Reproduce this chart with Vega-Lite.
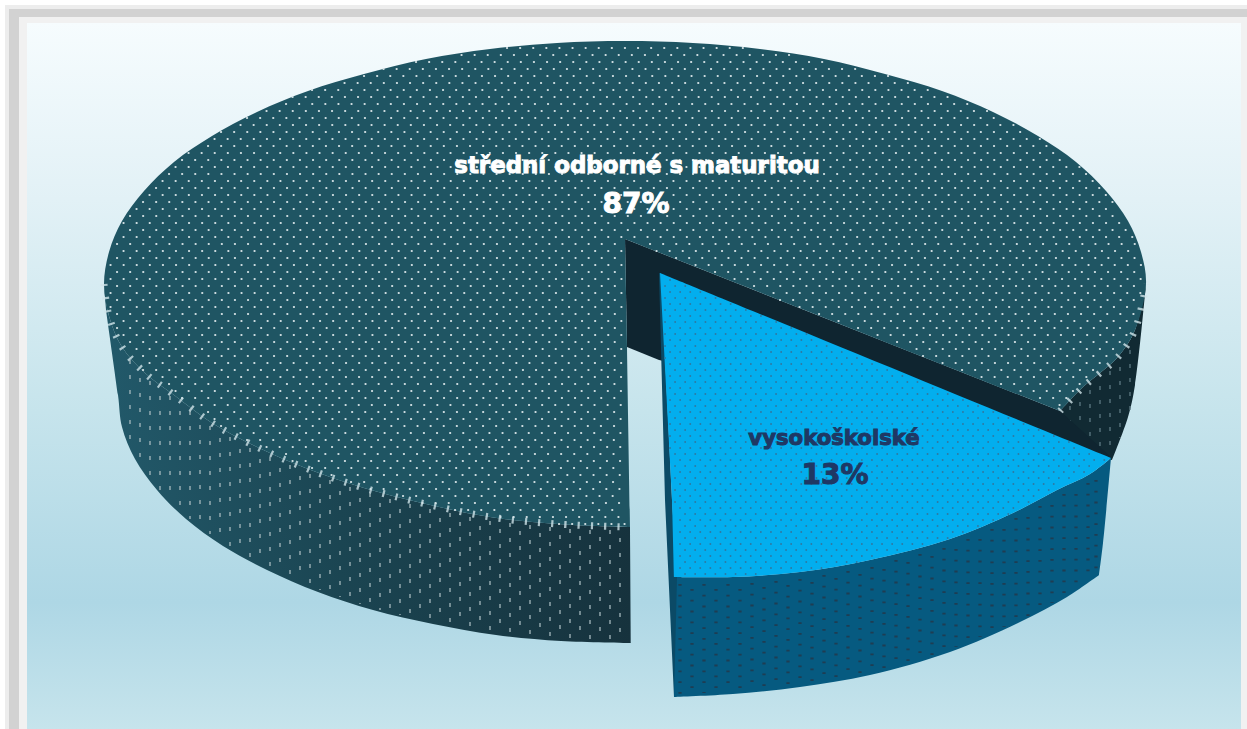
{"$schema":"https://vega.github.io/schema/vega-lite/v6.json","width":1247,"height":729,"autosize":{"type":"fit","contains":"padding"},"padding":0,"background":"#ffffff","config":{"view":{"stroke":null}},
"datasets":{
"frame":[{"tone":"a","x":5,"x2":1247,"y":5,"y2":729},{"tone":"b","x":9,"x2":1247,"y":9,"y2":729},{"tone":"c","x":19,"x2":1247,"y":17,"y2":729}],
"panel":[{"x":27,"x2":1241,"y":23,"y2":729}],
"outline":[
{"p":"wallL","s":1,"x":104,"y":284},{"p":"wallL","s":2,"x":109,"y":316},{"p":"wallL","s":3,"x":122,"y":347},{"p":"wallL","s":4,"x":145,"y":373},{"p":"wallL","s":5,"x":174,"y":395},{"p":"wallL","s":6,"x":212,"y":423},{"p":"wallL","s":7,"x":257,"y":447},{"p":"wallL","s":8,"x":308,"y":469},{"p":"wallL","s":9,"x":364,"y":488},{"p":"wallL","s":10,"x":426,"y":504},{"p":"wallL","s":11,"x":490,"y":517},{"p":"wallL","s":12,"x":557,"y":524},{"p":"wallL","s":13,"x":630,"y":527},{"p":"wallL","s":13,"x":630,"y":527},{"p":"wallL","s":14,"x":631,"y":643},{"p":"wallL","s":14,"x":631,"y":643},{"p":"wallL","s":15,"x":561,"y":641},{"p":"wallL","s":16,"x":496,"y":635},{"p":"wallL","s":17,"x":433,"y":624},{"p":"wallL","s":18,"x":373,"y":610},{"p":"wallL","s":19,"x":318,"y":592},{"p":"wallL","s":20,"x":267,"y":570},{"p":"wallL","s":21,"x":223,"y":546},{"p":"wallL","s":22,"x":186,"y":519},{"p":"wallL","s":23,"x":157,"y":490},{"p":"wallL","s":24,"x":135,"y":459},{"p":"wallL","s":25,"x":122,"y":427},{"p":"wallL","s":26,"x":118,"y":395},{"p":"wallL","s":27,"x":106,"y":310},
{"p":"wallR","s":1,"x":1060,"y":411},{"p":"wallR","s":2,"x":1083,"y":387},{"p":"wallR","s":3,"x":1100,"y":373},{"p":"wallR","s":4,"x":1118,"y":357},{"p":"wallR","s":5,"x":1135,"y":330},{"p":"wallR","s":6,"x":1146,"y":284},{"p":"wallR","s":6,"x":1146,"y":284},{"p":"wallR","s":7,"x":1135,"y":385},{"p":"wallR","s":8,"x":1128,"y":417},{"p":"wallR","s":9,"x":1112,"y":460},{"p":"wallR","s":9,"x":1112,"y":460},{"p":"wallR","s":10,"x":1060,"y":440},
{"p":"inner","s":1,"x":625,"y":239},{"p":"inner","s":2,"x":1060,"y":411},{"p":"inner","s":3,"x":1112,"y":458},{"p":"inner","s":4,"x":659,"y":360},{"p":"inner","s":5,"x":627,"y":347},
{"p":"top","s":1,"x":625,"y":239},{"p":"top","s":1,"x":625,"y":239},{"p":"top","s":2,"x":1060,"y":411},{"p":"top","s":2,"x":1060,"y":411},{"p":"top","s":3,"x":1083,"y":387},{"p":"top","s":4,"x":1100,"y":373},{"p":"top","s":5,"x":1118,"y":357},{"p":"top","s":6,"x":1135,"y":330},{"p":"top","s":7,"x":1146,"y":284},{"p":"top","s":8,"x":1141,"y":252},{"p":"top","s":9,"x":1128,"y":221},{"p":"top","s":10,"x":1106,"y":191},{"p":"top","s":11,"x":1076,"y":162},{"p":"top","s":12,"x":1038,"y":136},{"p":"top","s":13,"x":993,"y":112},{"p":"top","s":14,"x":942,"y":91},{"p":"top","s":15,"x":885,"y":74},{"p":"top","s":16,"x":824,"y":59},{"p":"top","s":17,"x":760,"y":49},{"p":"top","s":18,"x":693,"y":43},{"p":"top","s":19,"x":625,"y":41},{"p":"top","s":20,"x":557,"y":43},{"p":"top","s":21,"x":490,"y":49},{"p":"top","s":22,"x":426,"y":59},{"p":"top","s":23,"x":364,"y":74},{"p":"top","s":24,"x":308,"y":91},{"p":"top","s":25,"x":257,"y":112},{"p":"top","s":26,"x":212,"y":136},{"p":"top","s":27,"x":174,"y":162},{"p":"top","s":28,"x":144,"y":191},{"p":"top","s":29,"x":122,"y":221},{"p":"top","s":30,"x":109,"y":252},{"p":"top","s":31,"x":104,"y":284},{"p":"top","s":32,"x":109,"y":316},{"p":"top","s":33,"x":122,"y":347},{"p":"top","s":34,"x":145,"y":373},{"p":"top","s":35,"x":174,"y":395},{"p":"top","s":36,"x":212,"y":423},{"p":"top","s":37,"x":257,"y":447},{"p":"top","s":38,"x":308,"y":469},{"p":"top","s":39,"x":364,"y":488},{"p":"top","s":40,"x":426,"y":504},{"p":"top","s":41,"x":490,"y":517},{"p":"top","s":42,"x":557,"y":524},{"p":"top","s":43,"x":630,"y":527},{"p":"top","s":43,"x":630,"y":527},{"p":"top","s":44,"x":627,"y":347},
{"p":"blueWall","s":1,"x":674,"y":577},{"p":"blueWall","s":2,"x":733,"y":577},{"p":"blueWall","s":3,"x":800,"y":572},{"p":"blueWall","s":4,"x":870,"y":560},{"p":"blueWall","s":5,"x":950,"y":539},{"p":"blueWall","s":6,"x":1013,"y":513},{"p":"blueWall","s":7,"x":1057,"y":490},{"p":"blueWall","s":8,"x":1090,"y":474},{"p":"blueWall","s":9,"x":1111,"y":458},{"p":"blueWall","s":9,"x":1111,"y":458},{"p":"blueWall","s":10,"x":1103,"y":543},{"p":"blueWall","s":11,"x":1099,"y":575},{"p":"blueWall","s":11,"x":1099,"y":575},{"p":"blueWall","s":12,"x":1067,"y":597},{"p":"blueWall","s":13,"x":1020,"y":622},{"p":"blueWall","s":14,"x":950,"y":652},{"p":"blueWall","s":15,"x":870,"y":675},{"p":"blueWall","s":16,"x":800,"y":687},{"p":"blueWall","s":17,"x":733,"y":694},{"p":"blueWall","s":18,"x":674,"y":697},
{"p":"sliver","s":1,"x":659,"y":273},{"p":"sliver","s":2,"x":665,"y":500},{"p":"sliver","s":3,"x":674,"y":697},{"p":"sliver","s":4,"x":677,"y":578},{"p":"sliver","s":5,"x":672,"y":500},{"p":"sliver","s":6,"x":661,"y":273},
{"p":"blueTop","s":1,"x":660,"y":273},{"p":"blueTop","s":1,"x":660,"y":273},{"p":"blueTop","s":2,"x":1111,"y":458},{"p":"blueTop","s":2,"x":1111,"y":458},{"p":"blueTop","s":3,"x":1090,"y":474},{"p":"blueTop","s":4,"x":1057,"y":490},{"p":"blueTop","s":5,"x":1013,"y":513},{"p":"blueTop","s":6,"x":950,"y":539},{"p":"blueTop","s":7,"x":870,"y":560},{"p":"blueTop","s":8,"x":800,"y":572},{"p":"blueTop","s":9,"x":733,"y":577},{"p":"blueTop","s":10,"x":674,"y":577},{"p":"blueTop","s":10,"x":674,"y":577},{"p":"blueTop","s":11,"x":672,"y":500},
{"p":"rimL","s":1,"x":104,"y":284},{"p":"rimL","s":1.5,"x":109,"y":316},{"p":"rimL","s":2,"x":122,"y":347},{"p":"rimL","s":3,"x":145,"y":373},{"p":"rimL","s":4,"x":174,"y":395},{"p":"rimL","s":5,"x":212,"y":423},{"p":"rimL","s":6,"x":257,"y":447},{"p":"rimL","s":7,"x":308,"y":469},{"p":"rimL","s":8,"x":364,"y":488},{"p":"rimL","s":9,"x":426,"y":504},{"p":"rimL","s":10,"x":490,"y":517},{"p":"rimL","s":11,"x":557,"y":524},{"p":"rimL","s":12,"x":630,"y":527},
{"p":"rimR","s":1,"x":1060,"y":411},{"p":"rimR","s":2,"x":1083,"y":387},{"p":"rimR","s":3,"x":1100,"y":373},{"p":"rimR","s":4,"x":1118,"y":357},{"p":"rimR","s":5,"x":1135,"y":330},{"p":"rimR","s":6,"x":1146,"y":284}
],
"dotsTop":[
{"y":48,"x":507,"x2":747},{"y":55,"x":461.5,"x2":797},{"y":62,"x":416,"x2":834},{"y":69,"x":383.5,"x2":866},{"y":76,"x":364,"x2":892},{"y":83,"x":344.5,"x2":916},{"y":90,"x":312,"x2":937},{"y":97,"x":292.5,"x2":956},{"y":104,"x":286,"x2":973},{"y":111,"x":266.5,"x2":989},{"y":118,"x":247,"x2":1003},{"y":125,"x":240.5,"x2":1017},{"y":132,"x":221,"x2":1029},{"y":139,"x":214.5,"x2":1041},{"y":146,"x":208,"x2":1052},{"y":153,"x":188.5,"x2":1062},{"y":160,"x":182,"x2":1071},{"y":167,"x":175.5,"x2":1080},{"y":174,"x":169,"x2":1088},{"y":181,"x":162.5,"x2":1095},{"y":188,"x":156,"x2":1102},{"y":195,"x":149.5,"x2":1108},{"y":202,"x":143,"x2":1113},{"y":209,"x":136.5,"x2":1118},{"y":216,"x":130,"x2":1123},{"y":223,"x":123.5,"x2":1127},{"y":230,"x":130,"x2":1131},{"y":237,"x":123.5,"x2":1134},
{"y":244,"x":117,"x2":622},{"y":244,"x":650,"x2":1137},{"y":251,"x":123.5,"x2":622},{"y":251,"x":656.5,"x2":1139},{"y":258,"x":117,"x2":622},{"y":258,"x":676,"x2":1141},{"y":265,"x":110.5,"x2":622},{"y":265,"x":695.5,"x2":1142},{"y":272,"x":117,"x2":622},{"y":272,"x":715,"x2":1143},{"y":279,"x":110.5,"x2":622},{"y":279,"x":734.5,"x2":1144},{"y":286,"x":117,"x2":622},{"y":286,"x":754,"x2":1144},{"y":293,"x":110.5,"x2":622},{"y":293,"x":773.5,"x2":1142},{"y":300,"x":117,"x2":622},{"y":300,"x":780,"x2":1141},{"y":307,"x":110.5,"x2":622},{"y":307,"x":799.5,"x2":1139},{"y":314,"x":117,"x2":622},{"y":314,"x":819,"x2":1136},{"y":321,"x":123.5,"x2":622},{"y":321,"x":838.5,"x2":1135},{"y":328,"x":117,"x2":622},{"y":328,"x":858,"x2":1133},{"y":335,"x":123.5,"x2":622},{"y":335,"x":877.5,"x2":1130},{"y":342,"x":130,"x2":622},{"y":342,"x":897,"x2":1126},{"y":349,"x":136.5,"x2":622},{"y":349,"x":916.5,"x2":1122},{"y":356,"x":143,"x2":622},{"y":356,"x":923,"x2":1117},{"y":363,"x":149.5,"x2":622},{"y":363,"x":942.5,"x2":1108},{"y":370,"x":143,"x2":622},{"y":370,"x":962,"x2":1101},{"y":377,"x":162.5,"x2":622},{"y":377,"x":981.5,"x2":1094},{"y":384,"x":169,"x2":622},{"y":384,"x":1001,"x2":1085},{"y":391,"x":175.5,"x2":622},{"y":391,"x":1020.5,"x2":1078},{"y":398,"x":182,"x2":622},{"y":398,"x":1040,"x2":1071},{"y":405,"x":201.5,"x2":622},{"y":405,"x":1059.5,"x2":1064},
{"y":412,"x":208,"x2":622},{"y":419,"x":214.5,"x2":622},{"y":426,"x":221,"x2":622},{"y":433,"x":240.5,"x2":622},{"y":440,"x":247,"x2":622},{"y":447,"x":266.5,"x2":622},{"y":454,"x":286,"x2":622},{"y":461,"x":292.5,"x2":622},{"y":468,"x":312,"x2":622},{"y":475,"x":331.5,"x2":622},{"y":482,"x":351,"x2":622},{"y":489,"x":370.5,"x2":622},{"y":496,"x":403,"x2":622},{"y":503,"x":422.5,"x2":622},{"y":510,"x":455,"x2":622},{"y":517,"x":500.5,"x2":622},{"y":524,"x":559,"x2":626}
],
"dotsBlue":[
{"y":280,"x":670,"x2":675},{"y":286,"x":665,"x2":690},{"y":292,"x":670,"x2":704},{"y":298,"x":665,"x2":719},{"y":304,"x":670,"x2":734},{"y":310,"x":665,"x2":748},{"y":316,"x":670,"x2":763},{"y":322,"x":665,"x2":777},{"y":328,"x":670,"x2":792},{"y":334,"x":665,"x2":807},{"y":340,"x":670,"x2":821},{"y":346,"x":665,"x2":836},{"y":352,"x":670,"x2":850},{"y":358,"x":665,"x2":865},{"y":364,"x":670,"x2":880},{"y":370,"x":675,"x2":894},{"y":376,"x":670,"x2":909},{"y":382,"x":675,"x2":924},{"y":388,"x":670,"x2":938},{"y":394,"x":675,"x2":953},{"y":400,"x":670,"x2":967},{"y":406,"x":675,"x2":982},{"y":412,"x":670,"x2":997},{"y":418,"x":675,"x2":1011},{"y":424,"x":670,"x2":1026},{"y":430,"x":675,"x2":1040},{"y":436,"x":670,"x2":1055},{"y":442,"x":675,"x2":1070},{"y":448,"x":670,"x2":1084},{"y":454,"x":675,"x2":1099},{"y":460,"x":680,"x2":1105},{"y":466,"x":675,"x2":1096},{"y":472,"x":680,"x2":1088},{"y":478,"x":675,"x2":1076},{"y":484,"x":680,"x2":1063},{"y":490,"x":675,"x2":1053},{"y":496,"x":680,"x2":1041},{"y":502,"x":675,"x2":1029},{"y":508,"x":680,"x2":1018},{"y":514,"x":685,"x2":1009},{"y":520,"x":680,"x2":995},{"y":526,"x":685,"x2":979},{"y":532,"x":680,"x2":965},{"y":538,"x":685,"x2":950},{"y":544,"x":680,"x2":924},{"y":550,"x":685,"x2":905},{"y":556,"x":680,"x2":880},{"y":562,"x":685,"x2":858},{"y":568,"x":680,"x2":822},{"y":574,"x":685,"x2":765}
],
"ticksL":[
{"x":130,"y":360,"y2":444},{"x":140,"y":378,"y2":462},{"x":150,"y":381,"y2":477},{"x":160,"y":396,"y2":490},{"x":170,"y":396,"y2":500},{"x":180,"y":411,"y2":510},{"x":190,"y":411,"y2":519},{"x":200,"y":425,"y2":526},{"x":210,"y":426,"y2":534},{"x":220,"y":438,"y2":541},{"x":230,"y":437,"y2":547},{"x":240,"y":449,"y2":554},{"x":250,"y":448,"y2":559},{"x":260,"y":459,"y2":563},{"x":270,"y":457,"y2":568},{"x":280,"y":468,"y2":572},{"x":290,"y":465,"y2":576},{"x":300,"y":476,"y2":581},{"x":310,"y":474,"y2":586},{"x":320,"y":484,"y2":590},{"x":330,"y":480,"y2":594},{"x":340,"y":491,"y2":597},{"x":350,"y":487,"y2":600},{"x":360,"y":498,"y2":604},{"x":370,"y":493,"y2":606},{"x":380,"y":503,"y2":610},{"x":390,"y":499,"y2":612},{"x":400,"y":509,"y2":615},{"x":410,"y":504,"y2":617},{"x":420,"y":514,"y2":619},{"x":430,"y":509,"y2":621},{"x":440,"y":518,"y2":622},{"x":450,"y":513,"y2":624},{"x":460,"y":522,"y2":626},{"x":470,"y":517,"y2":628},{"x":480,"y":526,"y2":630},{"x":490,"y":521,"y2":631},{"x":500,"y":529,"y2":632},{"x":510,"y":523,"y2":633},{"x":520,"y":531,"y2":634},{"x":530,"y":525,"y2":635},{"x":540,"y":533,"y2":636},{"x":550,"y":527,"y2":637},{"x":560,"y":535,"y2":638},{"x":570,"y":529,"y2":638},{"x":580,"y":536,"y2":638},{"x":590,"y":530,"y2":639},{"x":600,"y":537,"y2":639},{"x":610,"y":530,"y2":639},{"x":620,"y":538,"y2":640}
],
"ticksR":[
{"x":1070,"y":406,"y2":440},{"x":1080,"y":402,"y2":444},{"x":1090,"y":390,"y2":448},{"x":1100,"y":386,"y2":452},{"x":1110,"y":371,"y2":450},{"x":1120,"y":367,"y2":438},{"x":1130,"y":336,"y2":410}
],
"ticksB":[
{"x":680,"y":584,"y2":694},{"x":692,"y":589,"y2":694},{"x":704,"y":584,"y2":693},{"x":716,"y":589,"y2":693},{"x":728,"y":584,"y2":692},{"x":740,"y":589,"y2":691},{"x":752,"y":583,"y2":690},{"x":764,"y":587,"y2":689},{"x":776,"y":581,"y2":688},{"x":788,"y":585,"y2":686},{"x":800,"y":579,"y2":685},{"x":812,"y":582,"y2":683},{"x":824,"y":575,"y2":681},{"x":836,"y":578,"y2":679},{"x":848,"y":571,"y2":677},{"x":860,"y":574,"y2":675},{"x":872,"y":567,"y2":672},{"x":884,"y":569,"y2":669},{"x":896,"y":560,"y2":666},{"x":908,"y":562,"y2":662},{"x":920,"y":554,"y2":659},{"x":932,"y":556,"y2":655},{"x":944,"y":548,"y2":652},{"x":956,"y":549,"y2":647},{"x":968,"y":539,"y2":642},{"x":980,"y":539,"y2":637},{"x":992,"y":529,"y2":632},{"x":1004,"y":529,"y2":627},{"x":1016,"y":518,"y2":622},{"x":1028,"y":517,"y2":616},{"x":1040,"y":506,"y2":610},{"x":1052,"y":505,"y2":603},{"x":1064,"y":494,"y2":597},{"x":1076,"y":494,"y2":589},{"x":1088,"y":483,"y2":580},{"x":1096,"y":480,"y2":575}
],
"labels":[
{"category":"střední odborné s maturitou","kind":"name","x":637,"y":173},
{"category":"87%","kind":"share","x":636,"y":213},
{"category":"vysokoškolské","kind":"name2","x":834,"y":445},
{"category":"13%","kind":"share2","x":835,"y":484}
]},
"encoding":{"x":{"field":"x","type":"quantitative","scale":{"domain":[0,1247],"nice":false,"zero":false},"axis":null},"y":{"field":"y","type":"quantitative","scale":{"domain":[729,0],"nice":false,"zero":false},"axis":null}},
"layer":[
{"data":{"name":"frame"},"mark":{"type":"rect"},"encoding":{"x2":{"field":"x2"},"y2":{"field":"y2"},"fill":{"field":"tone","type":"nominal","legend":null,"scale":{"domain":["a","b","c"],"range":["#ededed","#d2d2d2","#f1f1f1"]}}}},
{"data":{"name":"panel"},"mark":{"type":"rect","fill":{"gradient":"linear","x1":0,"y1":0,"x2":0,"y2":1,"stops":[{"offset":0,"color":"#f6fcfe"},{"offset":0.25,"color":"#e2f1f6"},{"offset":0.55,"color":"#c6e4ec"},{"offset":0.82,"color":"#aed7e5"},{"offset":1,"color":"#c6e4ec"}]}},"encoding":{"x2":{"field":"x2"},"y2":{"field":"y2"}}},
{"data":{"name":"outline"},"transform":[{"filter":"datum.p==='wallL'"}],"mark":{"type":"line","interpolate":"catmull-rom","strokeWidth":0,"fill":{"gradient":"linear","x1":0,"y1":0,"x2":1,"y2":0,"stops":[{"offset":0,"color":"#22596a"},{"offset":0.45,"color":"#1b4552"},{"offset":1,"color":"#16323d"}]}},"encoding":{"order":{"field":"s"}}},
{"data":{"name":"ticksL"},"mark":{"type":"rule","stroke":"#a9bcc1","strokeWidth":1.6,"strokeDash":[4,11],"opacity":0.8},"encoding":{"y2":{"field":"y2"}}},
{"data":{"name":"outline"},"transform":[{"filter":"datum.p==='wallR'"}],"mark":{"type":"line","interpolate":"catmull-rom","strokeWidth":0,"fill":"#112a33"},"encoding":{"order":{"field":"s"}}},
{"data":{"name":"ticksR"},"mark":{"type":"rule","stroke":"#5f7a84","strokeWidth":1.3,"strokeDash":[4,10]},"encoding":{"y2":{"field":"y2"}}},
{"data":{"name":"outline"},"transform":[{"filter":"datum.p==='inner'"}],"mark":{"type":"line","strokeWidth":0,"fill":"#0f2530"},"encoding":{"order":{"field":"s"}}},
{"data":{"name":"outline"},"transform":[{"filter":"datum.p==='top'"}],"mark":{"type":"line","interpolate":"catmull-rom","strokeWidth":0,"fill":"#1f5563"},"encoding":{"order":{"field":"s"}}},
{"data":{"name":"dotsTop"},"mark":{"type":"rule","stroke":"#d5e2e5","strokeWidth":2.2,"strokeCap":"round","strokeDash":[0.1,13]},"encoding":{"x2":{"field":"x2"}}},
{"data":{"name":"outline"},"transform":[{"filter":"datum.p==='blueWall'"}],"mark":{"type":"line","interpolate":"catmull-rom","strokeWidth":0,"fill":"#065a80"},"encoding":{"order":{"field":"s"}}},
{"data":{"name":"ticksB"},"mark":{"type":"rule","stroke":"#1f3d52","strokeWidth":3.2,"strokeDash":[1.8,9]},"encoding":{"y2":{"field":"y2"}}},
{"data":{"name":"outline"},"transform":[{"filter":"datum.p==='sliver'"}],"mark":{"type":"line","strokeWidth":0,"fill":"#0b4a66"},"encoding":{"order":{"field":"s"}}},
{"data":{"name":"outline"},"transform":[{"filter":"datum.p==='blueTop'"}],"mark":{"type":"line","interpolate":"catmull-rom","strokeWidth":0,"fill":"#03aeee"},"encoding":{"order":{"field":"s"}}},
{"data":{"name":"dotsBlue"},"mark":{"type":"rule","stroke":"#2f7aa3","strokeWidth":1.8,"strokeCap":"round","strokeDash":[0.1,10]},"encoding":{"x2":{"field":"x2"}}},
{"data":{"name":"outline"},"transform":[{"filter":"datum.p==='rimL'||datum.p==='rimR'"}],"mark":{"type":"line","interpolate":"catmull-rom","stroke":"#cfe4e8","strokeWidth":7,"strokeDash":[2.2,11],"opacity":0.8},"encoding":{"detail":{"field":"p"},"order":{"field":"s"}}},
{"data":{"name":"labels"},"transform":[{"filter":"datum.kind==='name'"}],"mark":{"type":"text","font":"DejaVu Sans","fontWeight":"bold","fontSize":22.9,"fill":"#ffffff","stroke":"#ffffff","strokeWidth":1,"align":"center","baseline":"alphabetic"},"encoding":{"text":{"field":"category"}}},
{"data":{"name":"labels"},"transform":[{"filter":"datum.kind==='share'"}],"mark":{"type":"text","font":"DejaVu Sans","fontWeight":"bold","fontSize":28,"fill":"#ffffff","stroke":"#ffffff","strokeWidth":1,"align":"center","baseline":"alphabetic"},"encoding":{"text":{"field":"category"}}},
{"data":{"name":"labels"},"transform":[{"filter":"datum.kind==='name2'"}],"mark":{"type":"text","font":"DejaVu Sans","fontWeight":"bold","fontSize":21.2,"fill":"#1f3864","stroke":"#1f3864","strokeWidth":1,"align":"center","baseline":"alphabetic"},"encoding":{"text":{"field":"category"}}},
{"data":{"name":"labels"},"transform":[{"filter":"datum.kind==='share2'"}],"mark":{"type":"text","font":"DejaVu Sans","fontWeight":"bold","fontSize":28,"fill":"#1f3864","stroke":"#1f3864","strokeWidth":1,"align":"center","baseline":"alphabetic"},"encoding":{"text":{"field":"category"}}}
]}
